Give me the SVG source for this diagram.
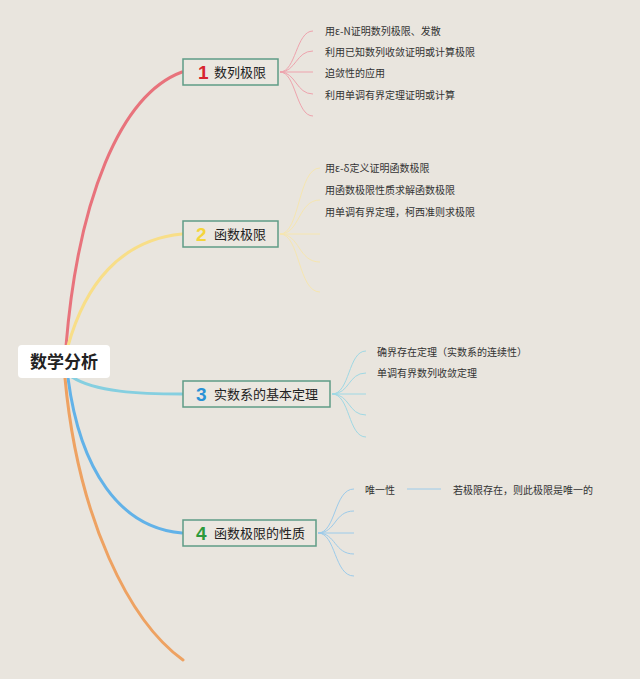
<svg xmlns="http://www.w3.org/2000/svg" width="640" height="679" viewBox="0 0 640 679">
<style>
.bg{fill:#e9e5de}
.box{fill:#ebe7e0;stroke:#5f9c86;stroke-width:1.5}
.t{font-family:"Noto Sans CJK SC","Noto Sans",sans-serif;fill:#222}
.lbl{font-size:13px}
.sub{font-size:10px;fill:#333}
.num{font-family:"Liberation Sans",Arial,sans-serif;font-weight:bold;font-size:19px}
.main{fill:none;stroke-width:3;stroke-linecap:round}
.fan{fill:none;stroke-width:1}
</style>
<rect class="bg" x="0" y="0" width="640" height="679"/>
<g id="connectors">
  <path class="main" stroke="#e8737c" d="M66,346 C78,200 120,95 182,72"/>
  <path class="main" stroke="#f8de88" d="M68,346 C85,285 120,240 182,234"/>
  <path class="main" stroke="#85cfe0" d="M72,377 C95,392 140,394 182,394"/>
  <path class="main" stroke="#62b2e8" d="M68,378 C80,470 120,528 182,533"/>
  <path class="main" stroke="#eea262" d="M65,378 C78,520 130,622 183,660"/>
  <g stroke="#eea3ad">
    <path class="fan" d="M280,72 C296,72 296,31 313,31"/>
    <path class="fan" d="M280,72 C296,72 296,51 313,51"/>
    <path class="fan" d="M280,72 L313,72"/>
    <path class="fan" d="M280,72 C296,72 296,94 313,94"/>
    <path class="fan" d="M280,72 C296,72 296,116 313,116"/>
  </g>
  <g stroke="#f6e6b0">
    <path class="fan" d="M280,234 C300,234 298,168 320,168"/>
    <path class="fan" d="M280,234 C300,234 298,200 320,200"/>
    <path class="fan" d="M280,234 L320,234"/>
    <path class="fan" d="M280,234 C300,234 298,262 320,262"/>
    <path class="fan" d="M280,234 C300,234 298,292 320,292"/>
  </g>
  <g stroke="#9fd8e4">
    <path class="fan" d="M332,394 C350,394 348,351 366,351"/>
    <path class="fan" d="M332,394 C350,394 348,373 366,373"/>
    <path class="fan" d="M332,394 L366,394"/>
    <path class="fan" d="M332,394 C350,394 348,415 366,415"/>
    <path class="fan" d="M332,394 C350,394 348,437 366,437"/>
  </g>
  <g stroke="#9ccbea">
    <path class="fan" d="M318,533 C336,533 334,489 354,489"/>
    <path class="fan" d="M318,533 C336,533 334,511 354,511"/>
    <path class="fan" d="M318,533 L354,533"/>
    <path class="fan" d="M318,533 C336,533 334,554 354,554"/>
    <path class="fan" d="M318,533 C336,533 334,576 354,576"/>
    <path class="fan" d="M407,489 L441,489"/>
  </g>
</g>
<g id="root">
  <rect x="18" y="345" width="92" height="33" rx="4" fill="#ffffff"/>
  <text class="t" x="64" y="368" font-size="17" font-weight="bold" text-anchor="middle" fill="#111">数学分析</text>
</g>
<g id="n1">
  <rect class="box" x="183" y="59" width="95" height="26"/>
  <text class="num" x="198" y="79" fill="#d8242f">1</text>
  <text class="t lbl" x="214" y="77">数列极限</text>
</g>
<g id="n1-items">
  <text class="t sub" x="325" y="35">用ε-N证明数列极限、发散</text>
  <text class="t sub" x="325" y="56">利用已知数列收敛证明或计算极限</text>
  <text class="t sub" x="325" y="77">迫敛性的应用</text>
  <text class="t sub" x="325" y="99">利用单调有界定理证明或计算</text>
</g>
<g id="n2">
  <rect class="box" x="183" y="221" width="95" height="26"/>
  <text class="num" x="196" y="241" fill="#f4d53c">2</text>
  <text class="t lbl" x="214" y="239">函数极限</text>
</g>
<g id="n2-items">
  <text class="t sub" x="325" y="172">用ε-δ定义证明函数极限</text>
  <text class="t sub" x="325" y="194">用函数极限性质求解函数极限</text>
  <text class="t sub" x="325" y="216">用单调有界定理，柯西准则求极限</text>
</g>
<g id="n3">
  <rect class="box" x="183" y="381" width="147" height="26"/>
  <text class="num" x="196" y="401" fill="#2a92d6">3</text>
  <text class="t lbl" x="214" y="399">实数系的基本定理</text>
</g>
<g id="n3-items">
  <text class="t sub" x="377" y="356">确界存在定理（实数系的连续性）</text>
  <text class="t sub" x="377" y="377">单调有界数列收敛定理</text>
</g>
<g id="n4">
  <rect class="box" x="183" y="520" width="133" height="26"/>
  <text class="num" x="196" y="540" fill="#2d9a3c">4</text>
  <text class="t lbl" x="214" y="538">函数极限的性质</text>
</g>
<g id="n4-items">
  <text class="t sub" x="365" y="494">唯一性</text>
  <text class="t sub" x="453" y="494">若极限存在，则此极限是唯一的</text>
</g>
</svg>
